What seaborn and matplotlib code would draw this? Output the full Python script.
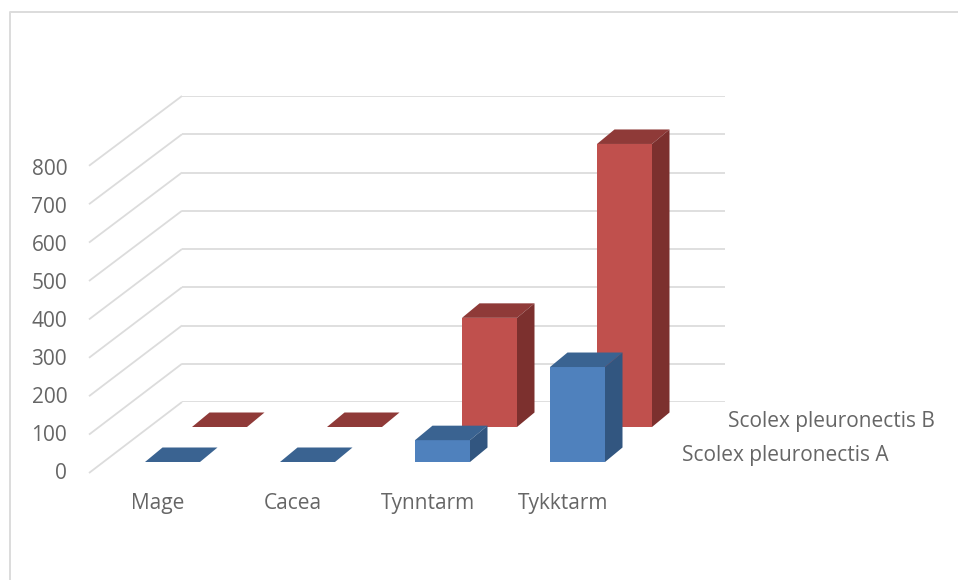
import matplotlib
matplotlib.use("Agg")
import matplotlib.pyplot as plt
from matplotlib.patches import Polygon
import pandas as pd
import seaborn as sns

categories = ["Mage", "Cacea", "Tynntarm", "Tykktarm"]
series_a = [0, 0, 57, 248]
series_b = [0, 0, 285, 739]
series_names = ["Scolex pleuronectis A", "Scolex pleuronectis B"]
value_ticks = [0, 100, 200, 300, 400, 500, 600, 700, 800]

W, H = 958, 580
TEXT = "#666666"
GRID = "#dcdcdc"
SPACING = 135.0          # pixels between neighbouring categories
BAR_W = 55.0             # pixel width of a column's front face
DEPTH = (17.5, 14.5)     # receding offset of the column faces
FONT_SIZE = 15.0

sns.set_theme(style="white")
plt.rcParams["font.family"] = ["Open Sans", "DejaVu Sans"]

fig = plt.figure(figsize=(W / 100, H / 100), dpi=100)


def panel(left, right, top, bottom, z):
    """Add a transparent axes given its extent in figure pixels."""
    ax = fig.add_axes([left / W, 1 - bottom / H, (right - left) / W, (bottom - top) / H], zorder=z)
    ax.patch.set_alpha(0)
    sns.despine(ax=ax, left=True, bottom=True)
    return ax


# Pixel-addressed canvas for the frame, the side wall and the series names
canvas = panel(0, W, 0, H, 0)
canvas.set_xlim(0, W)
canvas.set_ylim(H, 0)
canvas.axis("off")
canvas.plot([10, 10, W], [H, 12, 12], color=GRID, lw=1.4)

# Back wall with its horizontal gridlines
back_y0, back_scale = 402.0, 38.25 / 100
back = panel(182, 725, 402 - 800 * back_scale, 402, 1)
back.set_ylim(0, 800)
back.set_xticks([])
back.set_yticks(value_ticks)
back.tick_params(labelleft=False, length=0)
back.grid(axis="y", color=GRID, lw=1.3)
back.set_axisbelow(True)

# Side wall: one slanted line per tick, front edge to back wall
front_y0, front_scale = 473.0, 38.4 / 100
for v in value_ticks:
    canvas.plot([89, 182], [front_y0 - v * front_scale, back_y0 - v * back_scale],
                color=GRID, lw=1.3, solid_capstyle="butt")

# Axis labels along the front of the chart
label_axis = panel(72, 72 + 4 * SPACING, 471 - 800 * 0.38, 471, 1)
label_axis.set_xlim(-86 / SPACING, (72 + 4 * SPACING - 158) / SPACING)
label_axis.set_ylim(0, 800)
label_axis.set_xticks(range(len(categories)))
label_axis.set_xticklabels(categories)
label_axis.set_yticks(value_ticks)
label_axis.tick_params(axis="both", length=0, labelsize=FONT_SIZE, labelcolor=TEXT)
label_axis.tick_params(axis="x", pad=15.5)
label_axis.tick_params(axis="y", pad=3.5)


def columns(values, first_left, base_y, z, front, top_face, side_face):
    """Draw one series of columns; top and side faces follow each front bar."""
    scale = 38.3 / 100
    centre = first_left + BAR_W / 2
    ax = panel(centre - SPACING / 2, centre + SPACING * 3.5, base_y - 800 * scale, base_y, z)
    data = pd.DataFrame({"category": categories, "value": values})
    sns.barplot(data=data, x="category", y="value", color=front, saturation=1,
                width=BAR_W / SPACING, ax=ax, linewidth=0)
    ax.set_xlim(-0.5, 3.5)
    ax.set_ylim(0, 800)
    ax.set_xlabel("")
    ax.set_ylabel("")
    ax.set_xticks([])
    ax.set_yticks([])
    dx, dy = DEPTH
    fig.canvas.draw()
    for bar in ax.patches:
        (x0, y0), (x1, y1) = canvas.transData.inverted().transform(
            ax.transData.transform([(bar.get_x(), 0), (bar.get_x() + bar.get_width(), bar.get_height())]))
        ax.add_patch(Polygon([(x0, y1), (x1, y1), (x1 + dx, y1 - dy), (x0 + dx, y1 - dy)],
                             closed=True, fc=top_face, ec="none", transform=canvas.transData, clip_on=False))
        ax.add_patch(Polygon([(x1, y1), (x1 + dx, y1 - dy), (x1 + dx, y0 - dy), (x1, y0)],
                             closed=True, fc=side_face, ec="none", transform=canvas.transData, clip_on=False))


columns(series_b, 192, 427, 2, "#C0504D", "#8F3A38", "#7C302E")
columns(series_a, 145, 462, 3, "#4F81BD", "#3A6391", "#325680")

# Series names on the depth axis
canvas.text(682, 456, series_names[0], color=TEXT, fontsize=FONT_SIZE, va="center", ha="left")
canvas.text(728, 422, series_names[1], color=TEXT, fontsize=FONT_SIZE, va="center", ha="left")

fig.savefig("out.png", dpi=100)
